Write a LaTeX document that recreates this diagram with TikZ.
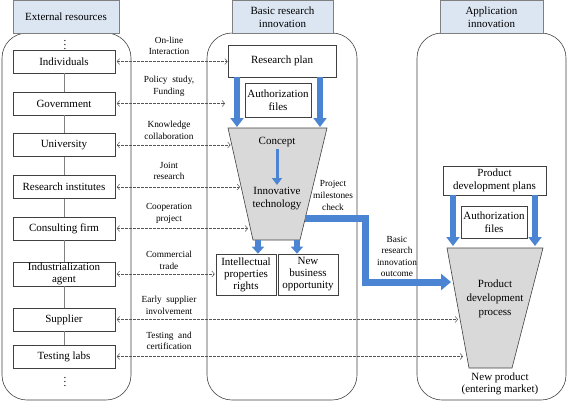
\documentclass[tikz,border=0pt]{standalone}
\usepackage{fontspec}
\setmainfont{Liberation Serif}
\usetikzlibrary{arrows.meta,calc}
\definecolor{hdrfill}{HTML}{DCE6F2}
\definecolor{blu}{HTML}{4A84D2}
\definecolor{edgec}{HTML}{404040}
\definecolor{funfill}{HTML}{D9D9D9}
\definecolor{dashc}{HTML}{555555}
\tikzset{
  lbox/.style={draw=edgec, fill=white, line width=0.6pt, minimum width=102pt, minimum height=23pt,
    font=\fontsize{11}{12}\selectfont, align=center, inner sep=1pt},
  wbox/.style={draw=edgec, fill=white, line width=0.6pt, font=\fontsize{11}{12.5}\selectfont, align=center, inner sep=1pt},
  hdr/.style={draw=gray, fill=hdrfill, line width=0.6pt, font=\fontsize{11}{13}\selectfont, align=center, inner sep=1pt},
  cont/.style={draw=edgec, line width=0.6pt, rounded corners=25pt, inner sep=0pt},
  lbl/.style={font=\fontsize{9.3}{11.6}\selectfont, align=center, inner sep=0pt},
  txt/.style={font=\fontsize{11}{13}\selectfont, align=center, inner sep=0pt},
  dline/.style={dash pattern=on 2.5pt off 1.5pt, draw=dashc, line width=0.5pt,
    {Straight Barb[length=2.5pt,width=6pt]}-{Straight Barb[length=2.5pt,width=6pt]}},
  vline/.style={draw=gray, line width=0.6pt},
  bigarrow/.style={draw=blu, line width=6pt, -{Triangle[length=9pt,width=13pt]}},
  funnel/.style={draw=edgec, fill=funfill, line width=0.6pt},
}
\begin{document}
\begin{tikzpicture}[x=1pt,y=-1pt]
\useasboundingbox (0,0) rectangle (567,402);

% containers
\node[cont, minimum width=129pt, minimum height=367pt] (c1) at (66.5,216.5) {};
\node[cont, minimum width=150pt, minimum height=367pt] (c2) at (282,216.5) {};
\node[cont, minimum width=149pt, minimum height=367pt] (c3) at (491.5,216.5) {};

% headers
\node[hdr, minimum width=106pt, minimum height=32.5pt] (h1) at (66,16.75) {External resources};
\node[hdr, minimum width=101pt, minimum height=32.5pt] (h2) at (282.5,16.75) {Basic research\\innovation};
\node[hdr, minimum width=103pt, minimum height=32.5pt] (h3) at (491.5,16.75) {Application\\innovation};

% left boxes
\node[txt] (dt) at (65,42) {\vdots};
\node[lbox] (ind) at (64,61.5) {Individuals};
\node[lbox] (gov) at (64,103.5) {Government};
\node[lbox] (uni) at (64,145) {University};
\node[lbox] (res) at (64,187) {Research institutes};
\node[lbox] (con) at (64,228.5) {Consulting firm};
\node[lbox, minimum height=24pt] (agt) at (64,274) {Industrialization\\agent};
\node[lbox] (sup) at (64,319.5) {Supplier};
\node[lbox] (tst) at (64,356.5) {Testing labs};
\node[txt] (db) at (65,379) {\vdots};

\draw[vline] (ind) -- (gov);
\draw[vline] (gov) -- (uni);
\draw[vline] (uni) -- (res);
\draw[vline] (res) -- (con);
\draw[vline] (con) -- (agt);
\draw[vline] (agt) -- (sup);
\draw[vline] (sup) -- (tst);

% middle column
\node[wbox, minimum width=108pt, minimum height=32pt] (rp) at (282,61) {Research plan};
\node[wbox, minimum width=66pt, minimum height=34pt] (af1) at (278,100) {Authorization\\files};
\draw[funnel] (228,128) -- (327,128) -- (300,240) -- (253,240) -- cycle;
\node[txt] (cpt) at (277,142) {Concept};
\node[txt] (inn) at (277,198.5) {Innovative\\technology};
\node[wbox, minimum width=60pt, minimum height=41pt, font=\fontsize{11}{12}\selectfont] (ip) at (246,274.5) {Intellectual\\properties\\rights};
\node[wbox, minimum width=60pt, minimum height=41pt, font=\fontsize{11}{12}\selectfont] (nb) at (308,274.5) {New\\business\\opportunity};

\coordinate (a1) at (237,127);
\coordinate (a2) at (320,127);
\draw[bigarrow] (rp.south -| a1) -- (a1);
\draw[bigarrow] (rp.south -| a2) -- (a2);
\coordinate (cs) at (277,149);
\coordinate (ce) at (277,185);
\draw[draw=blu, line width=3pt, -{Triangle[length=7pt,width=10pt]}] (cs) -- (ce);
\coordinate (b1) at (258,240);
\coordinate (b2) at (297,240);
\draw[bigarrow, -{Triangle[length=7pt,width=12pt]}] (b1) -- (b1 |- ip.north);
\draw[bigarrow, -{Triangle[length=7pt,width=12pt]}] (b2) -- (b2 |- nb.north);

\node[lbl] (pmc) at (333,195.5) {Project\\milestones\\check};

% right column
\node[wbox, minimum width=103pt, minimum height=29pt, font=\fontsize{11}{13.5}\selectfont] (pdp) at (494.5,180.5) {Product\\development plans};
\node[wbox, minimum width=66pt, minimum height=32pt] (af2) at (494,222) {Authorization\\files};
\draw[funnel] (447,248) -- (543,248) -- (512,368) -- (469,368) -- cycle;
\node[txt, font=\fontsize{11}{14}\selectfont] (pdpr) at (495,299) {Product\\development\\process};
\node[txt, font=\fontsize{11}{12.5}\selectfont] (np) at (500,384) {New product\\(entering market)};
\coordinate (r1) at (453,246);
\coordinate (r2) at (535,246);
\draw[bigarrow] (pdp.south -| r1) -- (r1);
\draw[bigarrow] (pdp.south -| r2) -- (r2);

% outcome arrow
\coordinate (o1) at (305,218.5);
\coordinate (o4) at (451,282);
\draw[draw=blu, line width=7pt, line join=miter, -{Triangle[length=10pt,width=16pt]}] (o1) -- (365.5,218.5) -- (365.5,282) -- (o4);
\node[lbl] (bro) at (397,256.5) {Basic\\research\\innovation\\outcome};

% dashed interaction arrows
\coordinate (t2) at (225,103.5);
\coordinate (t3) at (230.5,145);
\coordinate (t4) at (240,187);
\coordinate (t5) at (248,228.5);
\coordinate (t7) at (458,319.5);
\coordinate (t8) at (463,356.5);
\draw[dline, shorten <=1.5pt] (ind.east) -- (ind.east -| rp.west);
\draw[dline, shorten <=1.5pt] (gov.east) -- (t2);
\draw[dline, shorten <=1.5pt] (uni.east) -- (t3);
\draw[dline, shorten <=1.5pt] (res.east) -- (t4);
\draw[dline, shorten <=1.5pt] (con.east) -- (t5);
\draw[dline, shorten <=1.5pt, shorten >=1pt] (agt.east) -- (agt.east -| ip.west);
\draw[dline, shorten <=1.5pt] (sup.east) -- (t7);
\draw[dline, shorten <=1.5pt] (tst.east) -- (t8);

\node[lbl] (l1) at (169,46) {On-line\\Interaction};
\node[lbl] (l2) at (169,86) {Policy~ study,\\Funding};
\node[lbl] (l3) at (169,130.5) {Knowledge\\collaboration};
\node[lbl] (l4) at (169,171) {Joint\\research};
\node[lbl] (l5) at (169,213.5) {Cooperation\\project};
\node[lbl] (l6) at (169,260.5) {Commercial\\trade};
\node[lbl] (l7) at (169,305.5) {Early~ supplier\\involvement};
\node[lbl] (l8) at (169,341) {Testing~ and\\certification};
\end{tikzpicture}
\end{document}
